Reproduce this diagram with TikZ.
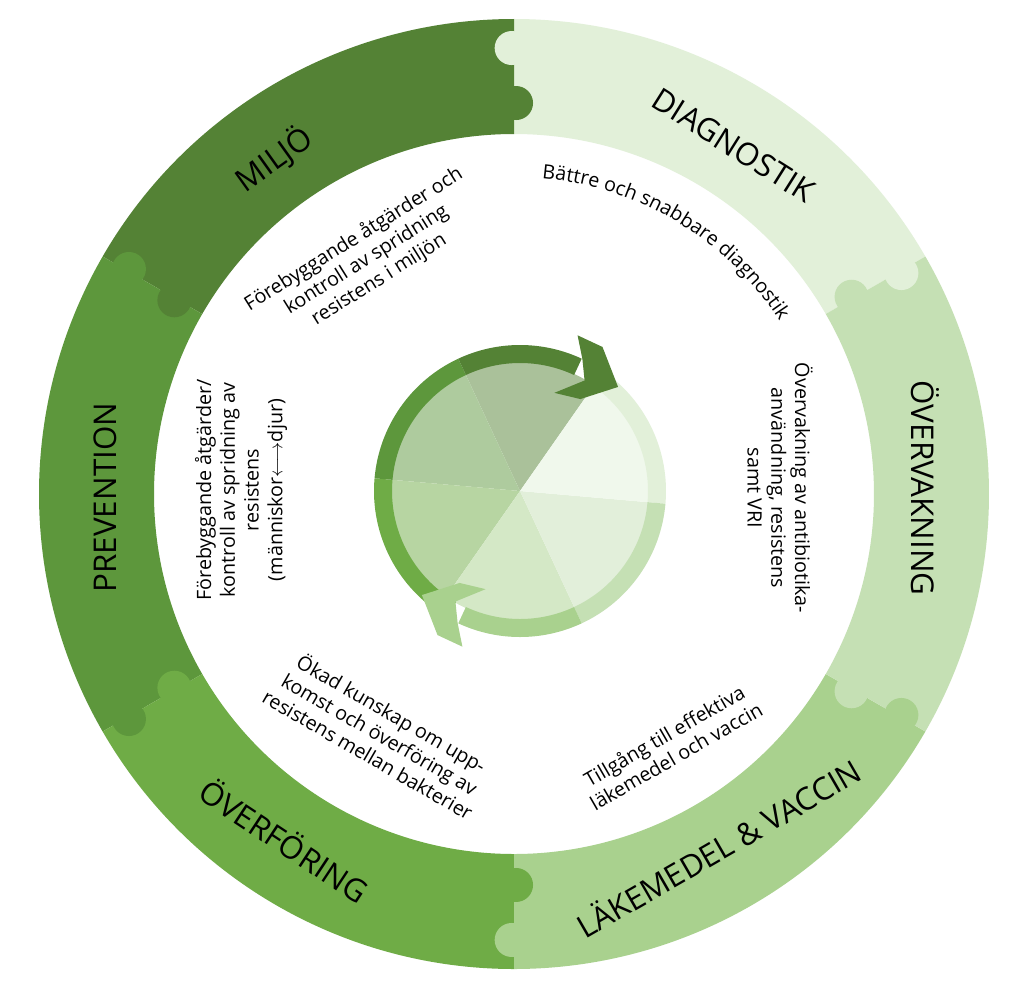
\documentclass[tikz,border=0pt]{standalone}
\usepackage{fontspec}
\setmainfont{Open Sans}
\usetikzlibrary{decorations.text}
\definecolor{cMil}{HTML}{548235}
\definecolor{cDia}{HTML}{E2F0D9}
\definecolor{cOve}{HTML}{C5E0B4}
\definecolor{cLak}{HTML}{A9D18E}
\definecolor{cOvf}{HTML}{6FAC46}
\definecolor{cPre}{HTML}{5D973C}
\tikzset{
  biglabel/.style={font=\fontsize{23.5}{28}\selectfont, inner sep=0pt},
  blocktext/.style={font=\fontsize{14.8}{17.8}\selectfont, align=center, inner sep=0pt},
}
% annular sector: colour, start angle, end angle, inner r, outer r
\newcommand\annsec[5]{\fill[#1] (#2:#5) arc[start angle=#2, end angle=#3, radius=#5] -- (#3:#4) arc[start angle=#3, end angle=#2, radius=#4] -- cycle;}
% pie slice: colour, a, b
\newcommand\pieslice[3]{\fill[#1!50!white] (0,0) -- (#2:129) arc[start angle=#2, end angle=#3, radius=129] -- cycle;}
% arrow head: colour, tip angle
\newcommand\archead[2]{\fill[#1] ({#2+18}:146) -- ({#2+23}:166) -- ({#2+13.5}:166) -- (#2:143) -- ({#2+10}:110) -- ({#2+24}:104) -- ({#2+13}:128) -- cycle;}
\begin{document}
\begin{tikzpicture}[x=0.75pt,y=0.75pt]
\useasboundingbox (-514,-496) rectangle (510,494);
\fill[white] (-514,-496) rectangle (510,494);
% outer ring segments
\annsec{cDia}{30}{90}{360}{475}
\annsec{cMil}{90}{150}{360}{475}
\annsec{cPre}{150}{210}{360}{475}
\annsec{cOvf}{210}{270}{360}{475}
\annsec{cLak}{270}{330}{360}{475}
\annsec{cOve}{-30}{30}{360}{475}
% puzzle knobs
\fill[cDia] (29.7:446) circle[radius=17];
\fill[cOve] (30.3:391) circle[radius=17];
\fill[cDia] (90.3:446) circle[radius=17];
\fill[cMil] (89.7:391) circle[radius=17];
\fill[cPre] (149.7:446) circle[radius=17];
\fill[cMil] (150.3:391) circle[radius=17];
\fill[cPre] (210.3:446) circle[radius=17];
\fill[cOvf] (209.7:391) circle[radius=17];
\fill[cLak] (269.7:446) circle[radius=17];
\fill[cOvf] (270.3:391) circle[radius=17];
\fill[cLak] (330.3:446) circle[radius=17];
\fill[cOve] (329.7:391) circle[radius=17];
% ring labels
\node[biglabel, rotate=35.6] (lmil) at (125.6:412) {MILJÖ};
\node[biglabel, rotate=-32.2] (ldia) at (57.8:412) {DIAGNOSTIK};
\node[biglabel, rotate=-90] (love) at (0.8:411) {ÖVERVAKNING};
\node[biglabel, rotate=30] (llak) at (-60:408) {LÄKEMEDEL \& VACCIN};
\node[biglabel, rotate=-33.5] (lovf) at (236.5:415) {ÖVERFÖRING};
\node[biglabel, rotate=90] (lpre) at (180.5:409) {PREVENTION};
% inner texts
\node[blocktext, rotate=32] (tmil) at (122.2:277) {Förebyggande åtgärder och\\kontroll av spridning\\resistens i miljön};
\node[blocktext, rotate=-90] (tove) at (266,6) {Övervakning av antibiotika-\\användning, resistens\\samt VRI};
\node[blocktext, rotate=30] (tlak) at (-58.2:296) {Tillgång till effektiva\\läkemedel och vaccin};
\node[blocktext, rotate=-30] (tovf) at (240.8:274) {Ökad kunskap om upp-\\komst och överföring av\\resistens mellan bakterier};
\node[blocktext, rotate=90] (tpre) at (-273,4) {Förebyggande åtgärder/\\kontroll av spridning av\\resistens\\(människor$\longleftrightarrow$djur)};
\path[decorate, decoration={text along path, text align=center, text format delimiters={|}{|}, text={|\fontsize{14.8}{17}\selectfont|B{ä}ttre och snabbare diagnostik}}] (110:317) arc[start angle=110, end angle=8, radius=317];
% centre wheel
\begin{scope}[shift={(6,3)}]
\pieslice{cMil}{55}{115}
\pieslice{cPre}{115}{175}
\pieslice{cOvf}{175}{235}
\pieslice{cLak}{235}{295}
\pieslice{cOve}{295}{355}
\pieslice{cDia}{-5}{55}
\annsec{cDia}{-5}{55}{128}{146}
\annsec{cOve}{-65}{-5}{128}{146}
\annsec{cLak}{-115}{-65}{128}{146}
\annsec{cOvf}{175}{240}{128}{146}
\annsec{cPre}{115}{175}{128}{146}
\annsec{cMil}{65}{115}{128}{146}
\archead{cMil}{46.7}
\archead{cLak}{226.7}
\end{scope}
\end{tikzpicture}
\end{document}
